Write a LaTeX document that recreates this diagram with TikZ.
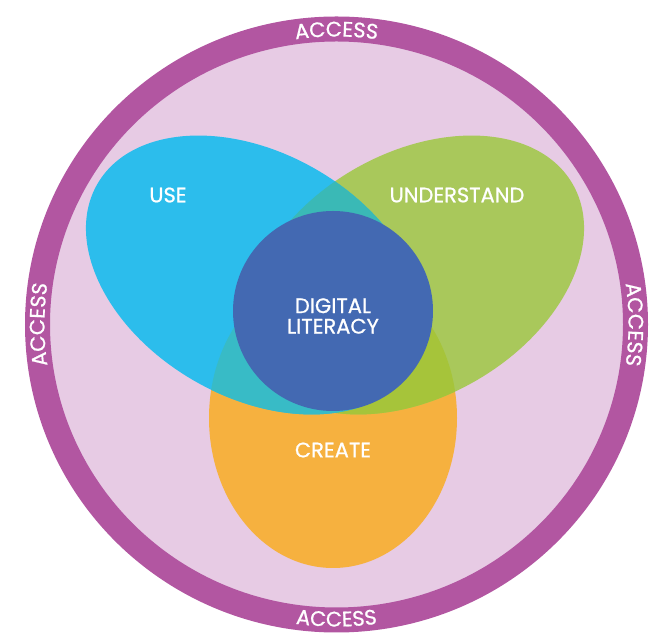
\documentclass[tikz,border=0pt]{standalone}
\usepackage{fontspec}
\setmainfont{Poppins}
\newfontfamily\labelface{Poppins}[FakeBold=0.8]
\usetikzlibrary{decorations.text}

\definecolor{ringpurple}{HTML}{B256A1}
\definecolor{bgpink}{HTML}{E7CBE4}
\definecolor{useblue}{HTML}{2CBDEC}
\definecolor{undgreen}{HTML}{A9C85B}
\definecolor{creorange}{HTML}{F6B13F}
\definecolor{litblue}{HTML}{4369B2}
\definecolor{usegreen}{HTML}{3AB9B6}
\definecolor{useorange}{HTML}{38BBC6}
\definecolor{undorange}{HTML}{A6C43A}

\newcommand{\labelfont}{\labelface\fontsize{21}{20.5}\selectfont}
\newcommand{\accessfont}{\labelface\fontsize{21}{21}\selectfont}

\tikzset{
	lbl/.style={text=white, font=\labelfont, align=center},
	access/.style={decorate, decoration={text along path, text={|\accessfont|ACCESS}, text align=center, text color=white}}
}

\begin{document}
\begin{tikzpicture}[x=1pt,y=1pt]
	\useasboundingbox (0,0) rectangle (651,634);
	\coordinate (ringc) at (336.5,309.5);
	
	% access ring
	\fill[bgpink] (ringc) ellipse[x radius=299, y radius=295.5];
	\draw[ringpurple, line width=25pt] (ringc) ellipse[x radius=299, y radius=295.5];
	
	% the three areas
	\fill[creorange] (333,216) ellipse[x radius=124, y radius=150];
	\fill[undgreen, rotate around={30:(415,359)}] (415,359) ellipse[x radius=182, y radius=122];
	\fill[useblue, rotate around={-30:(255,359)}] (255,359) ellipse[x radius=182, y radius=122];
	
	% overlaps
	\begin{scope}
		\clip[rotate around={30:(415,359)}] (415,359) ellipse[x radius=182, y radius=122];
		\fill[undorange] (333,216) ellipse[x radius=124, y radius=150];
		\fill[usegreen, rotate around={-30:(255,359)}] (255,359) ellipse[x radius=182, y radius=122];
	\end{scope}
	\begin{scope}
		\clip (333,216) ellipse[x radius=124, y radius=150];
		\fill[useorange, rotate around={-30:(255,359)}] (255,359) ellipse[x radius=182, y radius=122];
	\end{scope}
	
	\fill[litblue] (333,323) circle[radius=100];
	
	\node[lbl] (use) at (168,439) {USE};
	\node[lbl] (understand) at (457,439) {UNDERSTAND};
	\node[lbl] (create) at (333,184) {CREATE};
	\node[lbl] (literacy) at (333,318) {DIGITAL\\LITERACY};
	
	% ACCESS along the ring
	\path[access] (ringc) ++(120:292pt and 288pt) arc[start angle=120, end angle=60, x radius=292pt, y radius=288pt];
	\path[access] (ringc) ++(240:306pt and 302pt) arc[start angle=240, end angle=300, x radius=306pt, y radius=302pt];
	\path[access] (ringc) ++(200:292pt and 288pt) arc[start angle=200, end angle=160, x radius=292pt, y radius=288pt];
	\path[access] (ringc) ++(20:292pt and 288pt) arc[start angle=20, end angle=-20, x radius=292pt, y radius=288pt];
\end{tikzpicture}
\end{document}
